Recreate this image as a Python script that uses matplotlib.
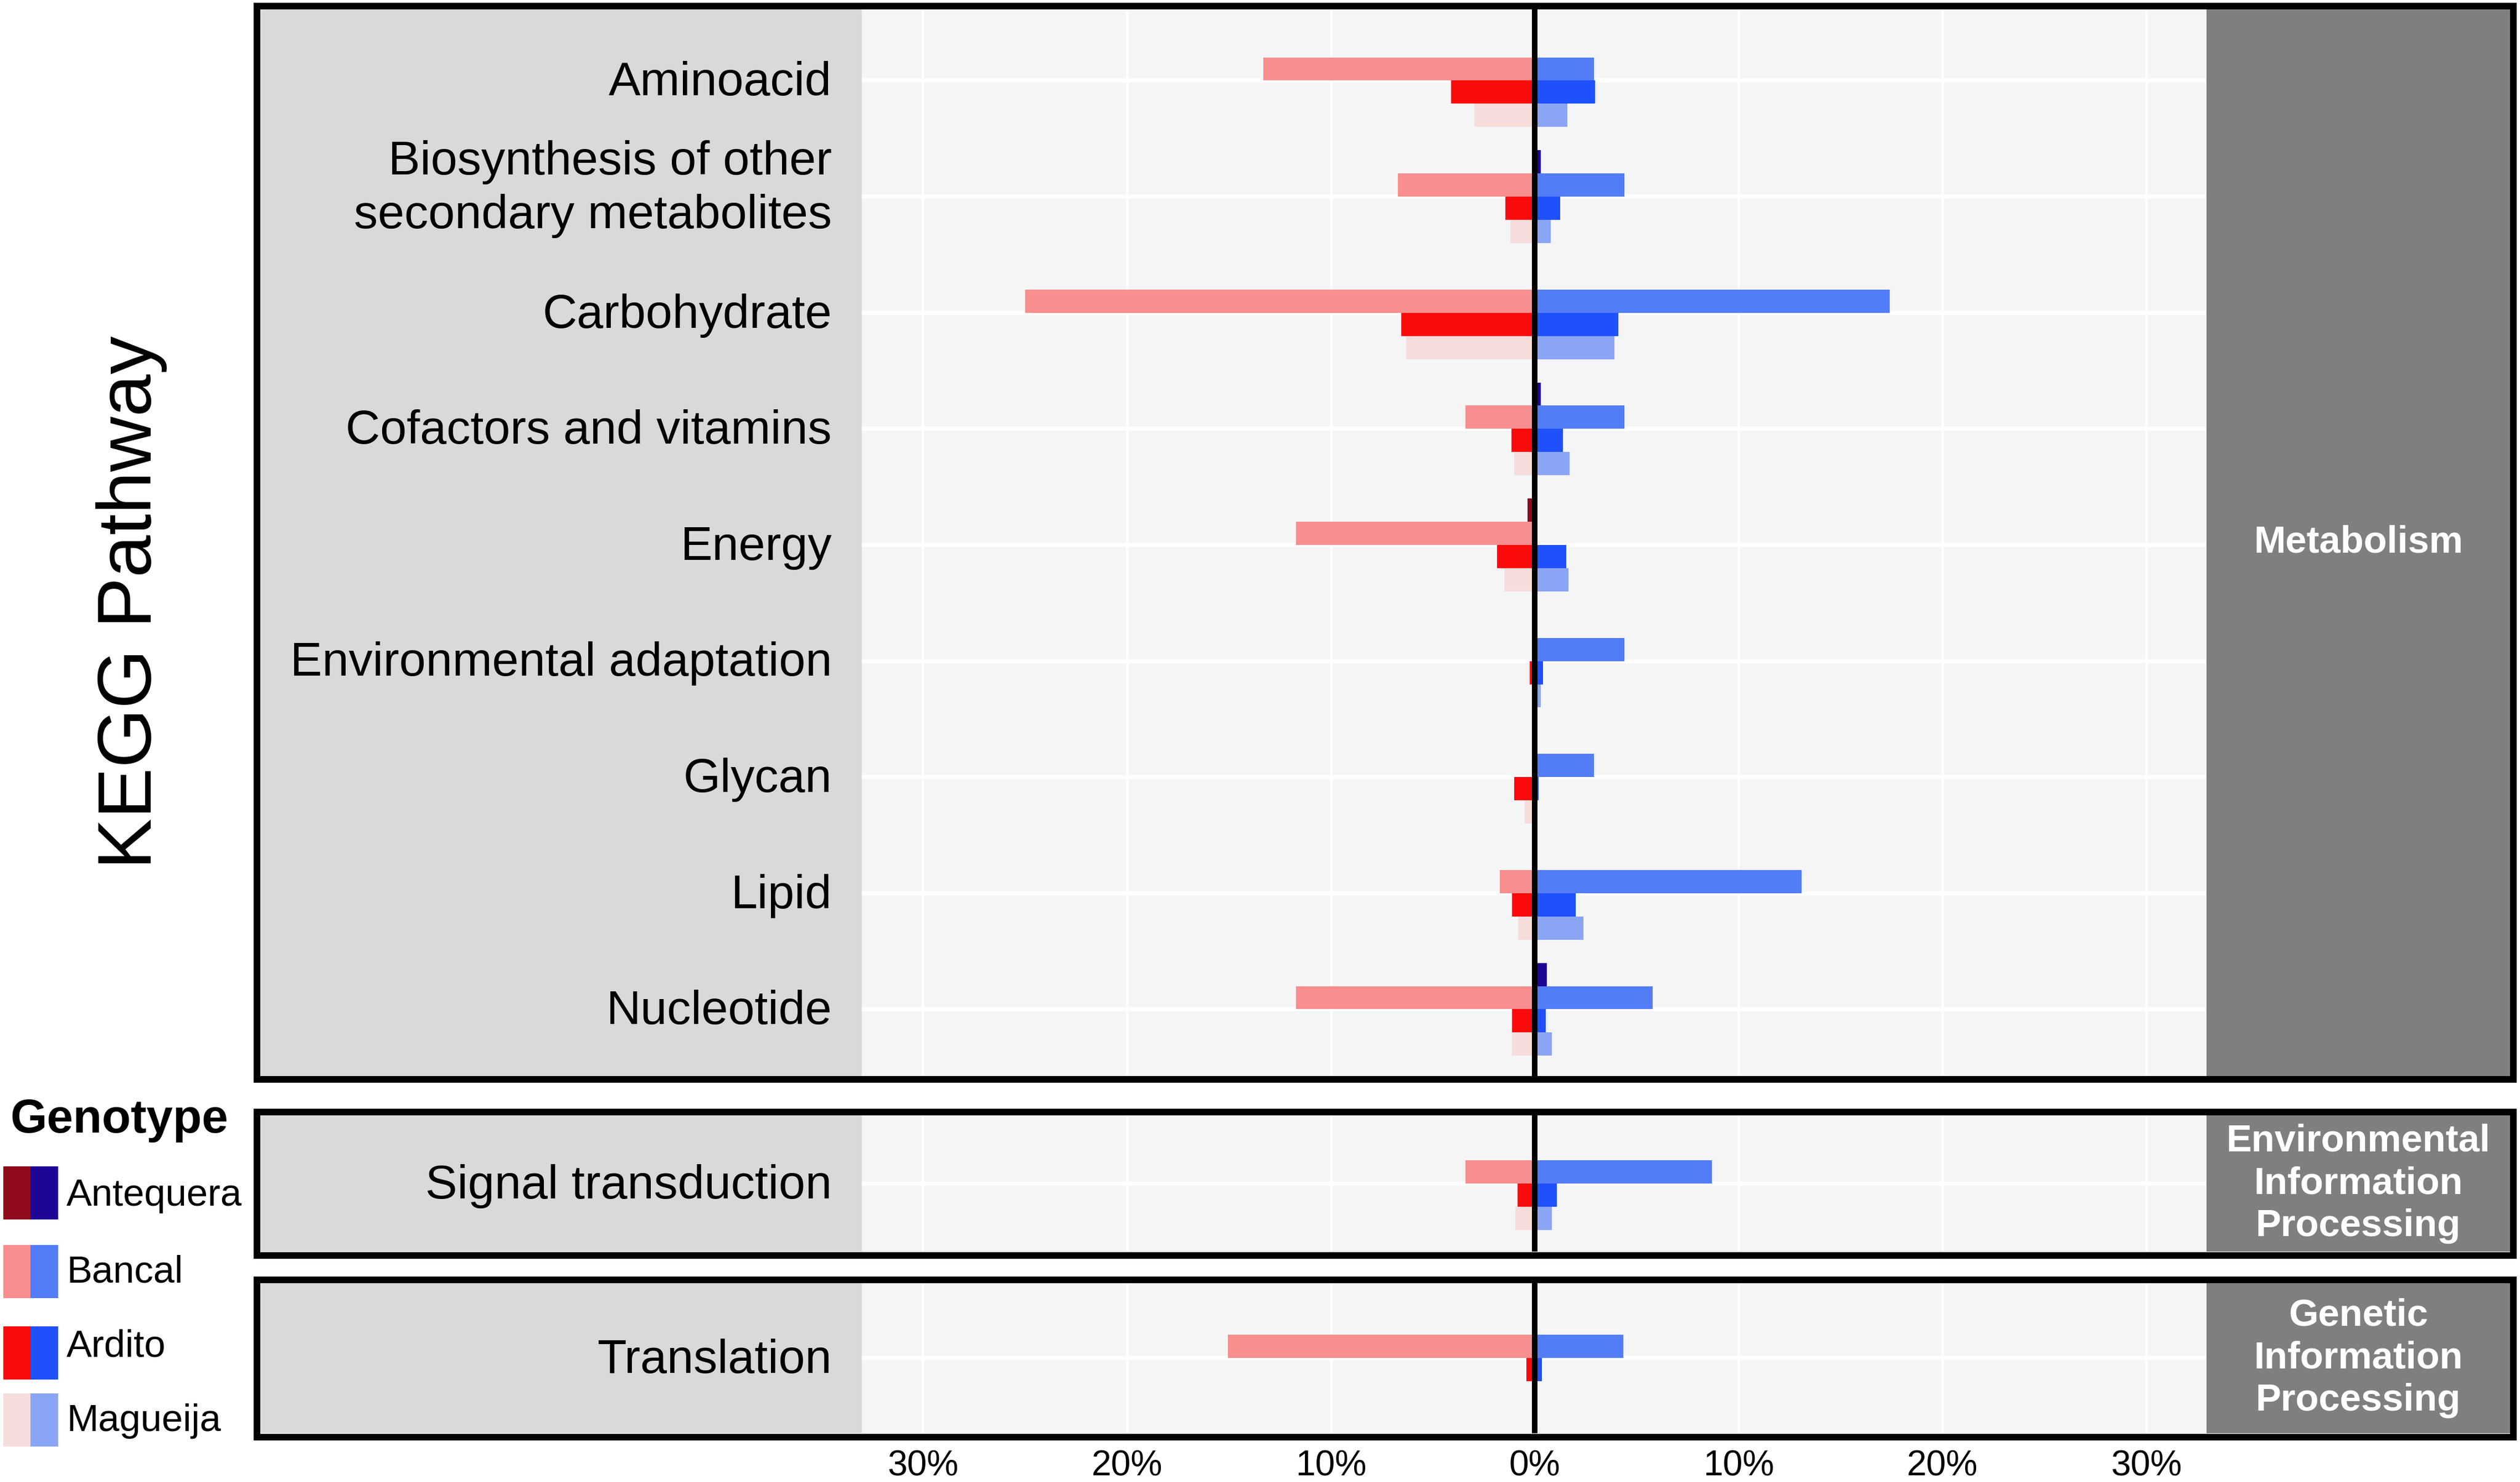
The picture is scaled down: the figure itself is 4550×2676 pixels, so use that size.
import matplotlib
matplotlib.use("Agg")
import matplotlib.pyplot as plt
from matplotlib.patches import Rectangle
from matplotlib.transforms import blended_transform_factory

plt.rcParams['font.family'] = ['Liberation Sans', 'DejaVu Sans']

W, H, DPI = 4550, 2676, 300

# ------------------------------------------------------------
# data (percent of DEGs)
# ------------------------------------------------------------
genotypes = ["Antequera", "Bancal", "Ardito", "Magueija"]
neg_colors = ["#8E0A1C", "#F88E8E", "#FA0A0A", "#F7DCDC"]
pos_colors = ["#1E0596", "#527DF7", "#1F51FA", "#8BA5F5"]

metab_paths = ["Aminoacid", "Biosynthesis of other\nsecondary metabolites", "Carbohydrate",
               "Cofactors and vitamins", "Energy", "Environmental adaptation",
               "Glycan", "Lipid", "Nucleotide"]
# columns follow genotypes
metab_down = [
    [0.0, 13.3, 4.1, 2.95],
    [0.0, 6.7, 1.45, 1.2],
    [0.0, 25.0, 6.55, 6.3],
    [0.0, 3.4, 1.15, 1.0],
    [0.35, 11.7, 1.85, 1.5],
    [0.0, 0.0, 0.25, 0.0],
    [0.0, 0.0, 1.0, 0.5],
    [0.0, 1.7, 1.1, 0.8],
    [0.0, 11.7, 1.1, 1.1],
]
metab_up = [
    [0.0, 2.9, 2.95, 1.6],
    [0.3, 4.4, 1.25, 0.8],
    [0.0, 17.4, 4.1, 3.9],
    [0.3, 4.4, 1.4, 1.7],
    [0.0, 0.0, 1.55, 1.65],
    [0.0, 4.4, 0.4, 0.3],
    [0.0, 2.9, 0.2, 0.0],
    [0.0, 13.1, 2.0, 2.4],
    [0.6, 5.8, 0.55, 0.85],
]

env_paths = ["Signal transduction"]
env_down = [[0.0, 3.4, 0.85, 0.95]]
env_up = [[0.0, 8.7, 1.1, 0.85]]

gen_paths = ["Translation"]
gen_down = [[0.0, 15.05, 0.4, 0.0]]
gen_up = [[0.0, 4.35, 0.35, 0.0]]

x_ticks = [-30, -20, -10, 0, 10, 20, 30]

# ------------------------------------------------------------
# layout (pixel positions of the three boxes)
# ------------------------------------------------------------
panels = [
    # paths, down, up, strip label, frame top/bottom (line centre), inner top/bottom, ylim
    (metab_paths, metab_down, metab_up, "Metabolism", 11, 1949, 17, 1943, (8.575, -0.613)),
    (env_paths, env_down, env_up, "Environmental\nInformation\nProcessing", 2008, 2267, 2014, 2260, (0.587, -0.587)),
    (gen_paths, gen_down, gen_up, "Genetic\nInformation\nProcessing", 2311, 2595, 2317, 2588, (0.649, -0.644)),
]
FRAME_L, FRAME_R = 464, 4538
GRAY_L = 470
PLOT_L, PLOT_R = 1556, 3984
STRIP_R = 4532
LABEL_R = 1502
offsets = [-0.3, -0.1, 0.1, 0.3]
bar_h = 0.2

fig = plt.figure(figsize=(W / DPI, H / DPI), dpi=DPI)
fig.patch.set_facecolor("white")


def fx(px):
    return px / W


def fy(py):
    return 1 - py / H


for k, (paths, down, up, strip, ftop, fbot, itop, ibot, ylim) in enumerate(panels):
    # frame axes, in pixel units (y grows downwards)
    fr = fig.add_axes([fx(FRAME_L), fy(fbot), fx(FRAME_R) - fx(FRAME_L), fy(ftop) - fy(fbot)])
    fr.set_xlim(FRAME_L, FRAME_R)
    fr.set_ylim(fbot, ftop)
    fr.set_axis_off()
    fr.set_zorder(0)
    fr.add_patch(Rectangle((GRAY_L, itop), PLOT_L - GRAY_L, ibot - itop,
                           facecolor="#D9D9D9", edgecolor="none"))
    fr.add_patch(Rectangle((PLOT_R, itop), STRIP_R - PLOT_R, ibot - itop,
                           facecolor="#7F7F7F", edgecolor="none"))
    fr.add_patch(Rectangle((FRAME_L, ftop), FRAME_R - FRAME_L, fbot - ftop,
                           fill=False, edgecolor="black", linewidth=2.88,
                           joinstyle="miter", clip_on=False))
    fr.text((PLOT_R + STRIP_R) / 2, (itop + ibot) / 2, strip, color="white",
            fontsize=16.5, fontweight="bold", ha="center", va="center", linespacing=1.25)

    # data axes
    ax = fig.add_axes([fx(PLOT_L), fy(ibot), fx(PLOT_R) - fx(PLOT_L), fy(itop) - fy(ibot)])
    ax.set_zorder(1)
    ax.set_facecolor("#F5F5F5")
    for j, g in enumerate(genotypes):
        ys = [i + offsets[j] for i in range(len(paths))]
        ax.barh(ys, [-row[j] for row in down], height=bar_h, color=neg_colors[j], linewidth=0)
        ax.barh(ys, [row[j] for row in up], height=bar_h, color=pos_colors[j], linewidth=0)
    ax.axvline(0, color="black", linewidth=2.4, zorder=5)
    ax.set_xlim(-33.0, 32.95)
    ax.set_ylim(*ylim)
    ax.set_xticks(x_ticks)
    ax.set_yticks(range(len(paths)))
    ax.set_yticklabels([])
    ax.tick_params(axis="y", length=0)
    ax.set_axisbelow(True)
    ax.grid(axis="x", color="white", linewidth=1.1)
    ax.grid(axis="y", color="white", linewidth=1.8)
    for s in ax.spines.values():
        s.set_visible(False)

    # category labels in the grey band on the left
    trans = blended_transform_factory(ax.transAxes, ax.transData)
    lx = (LABEL_R - PLOT_L) / (PLOT_R - PLOT_L)
    for i, p in enumerate(paths):
        if "\n" in p:
            ax.text(lx, i - 0.065, p, transform=trans, fontsize=20.7, ha="right",
                    va="center", linespacing=1.28, clip_on=False)
        else:
            ax.text(lx, i - 0.02, p, transform=trans, fontsize=20.7, ha="right",
                    va="center_baseline", clip_on=False)

    if k == len(panels) - 1:
        ax.set_xticklabels([f"{abs(v)}%" for v in x_ticks], fontsize=15.4)
        ax.tick_params(axis="x", length=0, pad=7)
    else:
        ax.tick_params(axis="x", length=0, labelbottom=False)

# y title
fig.text(fx(238), fy(1088), "KEGG Pathway", rotation=90, fontsize=33,
         ha="center", va="center")

# legend
fig.text(fx(18), fy(2045), "Genotype", fontsize=20.5, fontweight="bold",
         ha="left", va="baseline")
key_tops = [2106, 2248, 2395, 2516]
key_base = [2177, 2316, 2450, 2584]
for j, g in enumerate(genotypes):
    t = key_tops[j]
    fig.add_artist(Rectangle((fx(6), fy(t + 96)), fx(55) - fx(6), fy(t) - fy(t + 96),
                             facecolor=neg_colors[j], edgecolor="none", transform=fig.transFigure))
    fig.add_artist(Rectangle((fx(55), fy(t + 96)), fx(105) - fx(55), fy(t) - fy(t + 96),
                             facecolor=pos_colors[j], edgecolor="none", transform=fig.transFigure))
    fig.text(fx(120), fy(key_base[j]), g, fontsize=16.5, ha="left", va="baseline")

fig.savefig("out.png", dpi=DPI)
